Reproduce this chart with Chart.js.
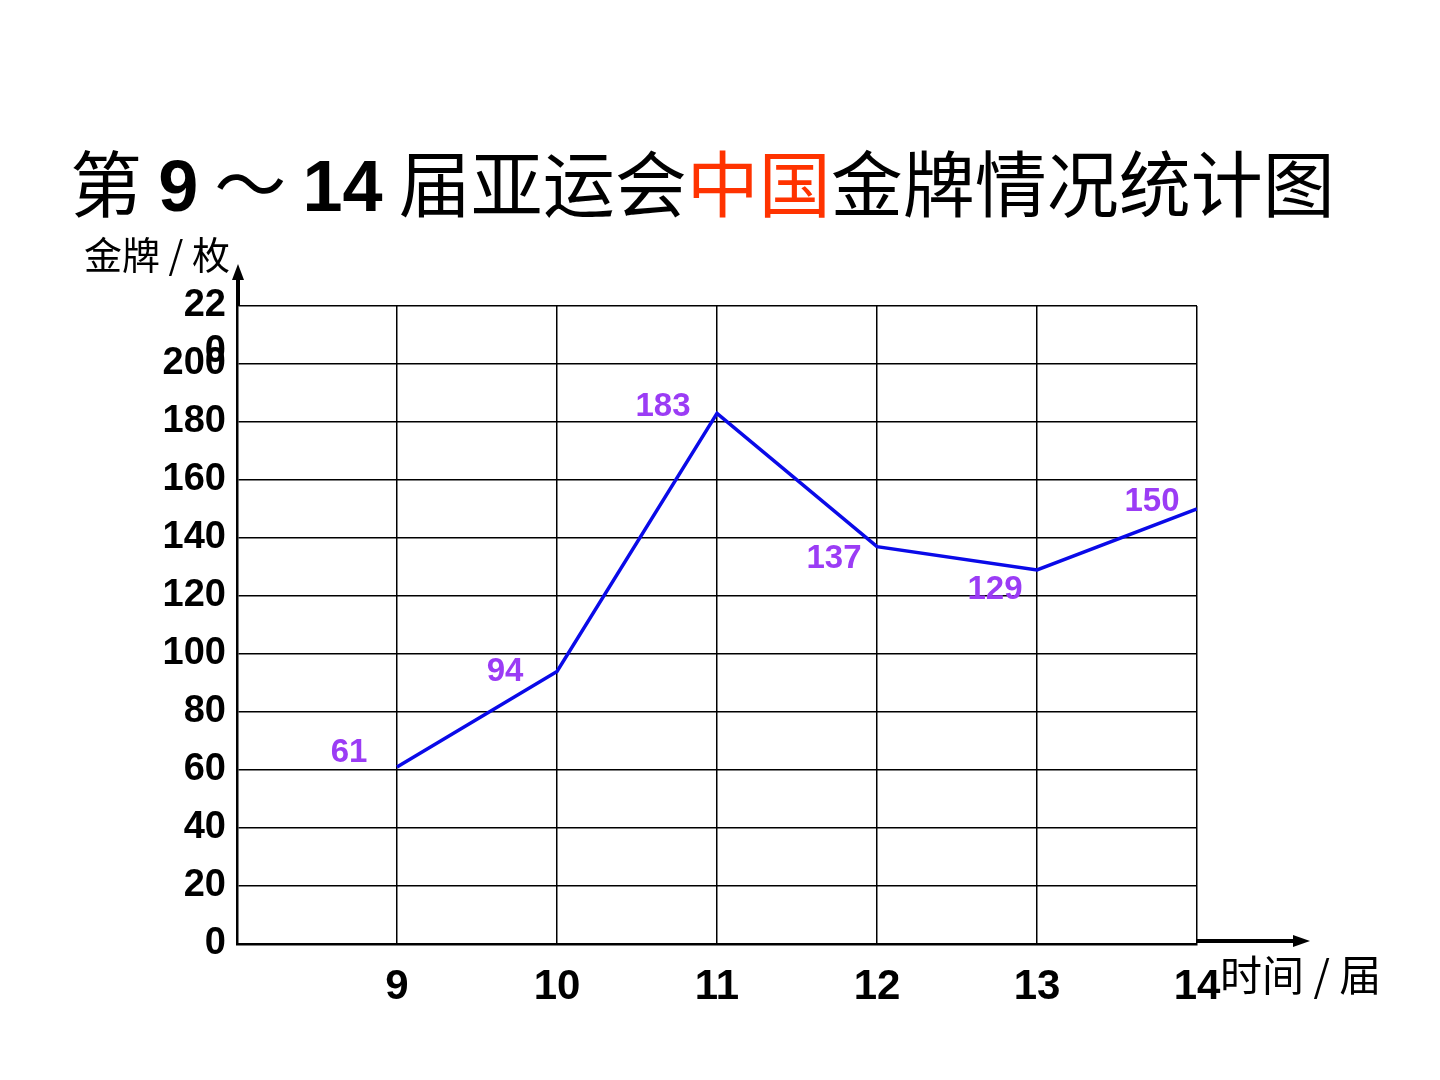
<!DOCTYPE html>
<html><head><meta charset="utf-8">
<script src="https://cdn.jsdelivr.net/npm/chart.js@4"></script>
<style>
html,body{margin:0;padding:0;background:#fff;}
#wrap{position:relative;width:1440px;height:1080px;overflow:hidden;}
#c{position:absolute;left:0;top:0;}
.t{position:absolute;white-space:nowrap;color:#000;}
#title{left:70px;top:132px;font-size:72px;line-height:96px;font-family:"Noto Sans CJK SC","Liberation Sans",sans-serif;}
#title b{font-family:"Liberation Sans",Arial,sans-serif;font-weight:bold;}
#title .r{color:#FF3300;}
#ylab{left:84px;top:228px;font-size:38px;line-height:50px;font-family:"Noto Sans CJK SC",sans-serif;}
#xlab{left:1220px;top:946px;font-size:42px;line-height:54px;font-family:"Noto Sans CJK SC",sans-serif;}
</style></head>
<body><div id="wrap">
<canvas id="c" width="1440" height="1080"></canvas>
<div class="t" id="title">第 <b>9</b> ～ <b>14</b> 届亚运会<span class="r">中国</span>金牌情况统计图</div>
<div class="t" id="ylab">金牌 / 枚</div>
<div class="t" id="xlab">时间 / 届</div>
</div>
<script>
const editions = [9, 10, 11, 12, 13, 14];
const golds = [61, 94, 183, 137, 129, 150];
const yTicks = [0, 20, 40, 60, 80, 100, 120, 140, 160, 180, 200, 220];

const labelOffsets = [[-48,-14],[-52,1],[-54,-6],[-43,12],[-42,20],[-45,-7]];

const extras = {
  id: 'extras',
  afterDatasetsDraw(chart) {
    const ctx = chart.ctx;
    const meta = chart.getDatasetMeta(0);
    ctx.save();
    ctx.font = 'bold 33px "Liberation Sans", Arial, sans-serif';
    ctx.fillStyle = '#9B3CF5';
    ctx.textAlign = 'center';
    ctx.textBaseline = 'middle';
    meta.data.forEach((p, i) => {
      const o = labelOffsets[i];
      ctx.fillText(String(golds[i]), p.x + o[0], p.y + o[1]);
    });
    ctx.restore();
  },
  afterDraw(chart) {
    const ctx = chart.ctx;
    const a = chart.chartArea;
    ctx.save();
    ctx.strokeStyle = '#000';
    ctx.fillStyle = '#000';
    ctx.lineWidth = 4;
    ctx.beginPath();
    ctx.moveTo(a.left + 1, a.top);
    ctx.lineTo(a.left + 1, a.top - 30);
    ctx.stroke();
    ctx.beginPath();
    ctx.moveTo(a.left + 1, a.top - 42);
    ctx.lineTo(a.left - 5, a.top - 26);
    ctx.lineTo(a.left + 7, a.top - 26);
    ctx.closePath();
    ctx.fill();
    ctx.beginPath();
    ctx.moveTo(a.right, a.bottom - 3);
    ctx.lineTo(a.right + 98, a.bottom - 3);
    ctx.stroke();
    ctx.beginPath();
    ctx.moveTo(a.right + 113, a.bottom - 3);
    ctx.lineTo(a.right + 96, a.bottom - 9);
    ctx.lineTo(a.right + 96, a.bottom + 3);
    ctx.closePath();
    ctx.fill();
    ctx.restore();
  }
};

new Chart(document.getElementById('c'), {
  type: 'line',
  data: {
    datasets: [{
      data: editions.map((e, i) => ({x: e, y: golds[i]})),
      borderColor: '#0A0AE8',
      borderWidth: 3.5,
      pointRadius: 0,
      tension: 0,
      fill: false
    }]
  },
  options: {
    responsive: false,
    animation: false,
    layout: {padding: {top: 306, right: 243, left: 0, bottom: 0}},
    plugins: {legend: {display: false}, tooltip: {enabled: false}, title: {display: false}},
    scales: {
      x: {
        type: 'linear', min: 8, max: 14,
        afterFit(s) { s.height = 136; },
        afterBuildTicks(s) { s.ticks = [8].concat(editions).map(v => ({value: v})); },
        grid: {color: '#000', lineWidth: 1.5, drawTicks: false},
        border: {color: '#000', width: 2.5},
        ticks: {
          autoSkip: false,
          maxRotation: 0,
          padding: 18,
          color: '#000',
          font: {family: '"Liberation Sans", Arial, sans-serif', size: 42, weight: 'bold'},
          callback: v => (editions.includes(v) ? String(v) : '')
        }
      },
      y: {
        min: 0, max: 220,
        afterFit(s) { s.width = 237; },
        afterBuildTicks(s) { s.ticks = yTicks.map(v => ({value: v})); },
        grid: {color: '#000', lineWidth: 1.5, drawTicks: false},
        border: {color: '#000', width: 2.5},
        ticks: {
          autoSkip: false,
          padding: 11,
          color: '#000',
          font: {family: '"Liberation Sans", Arial, sans-serif', size: 38, weight: 'bold', lineHeight: 1.2},
          callback: v => (v === 220 ? ['', '22', '0'] : String(v))
        }
      }
    }
  },
  plugins: [extras]
});
</script>
</body></html>
